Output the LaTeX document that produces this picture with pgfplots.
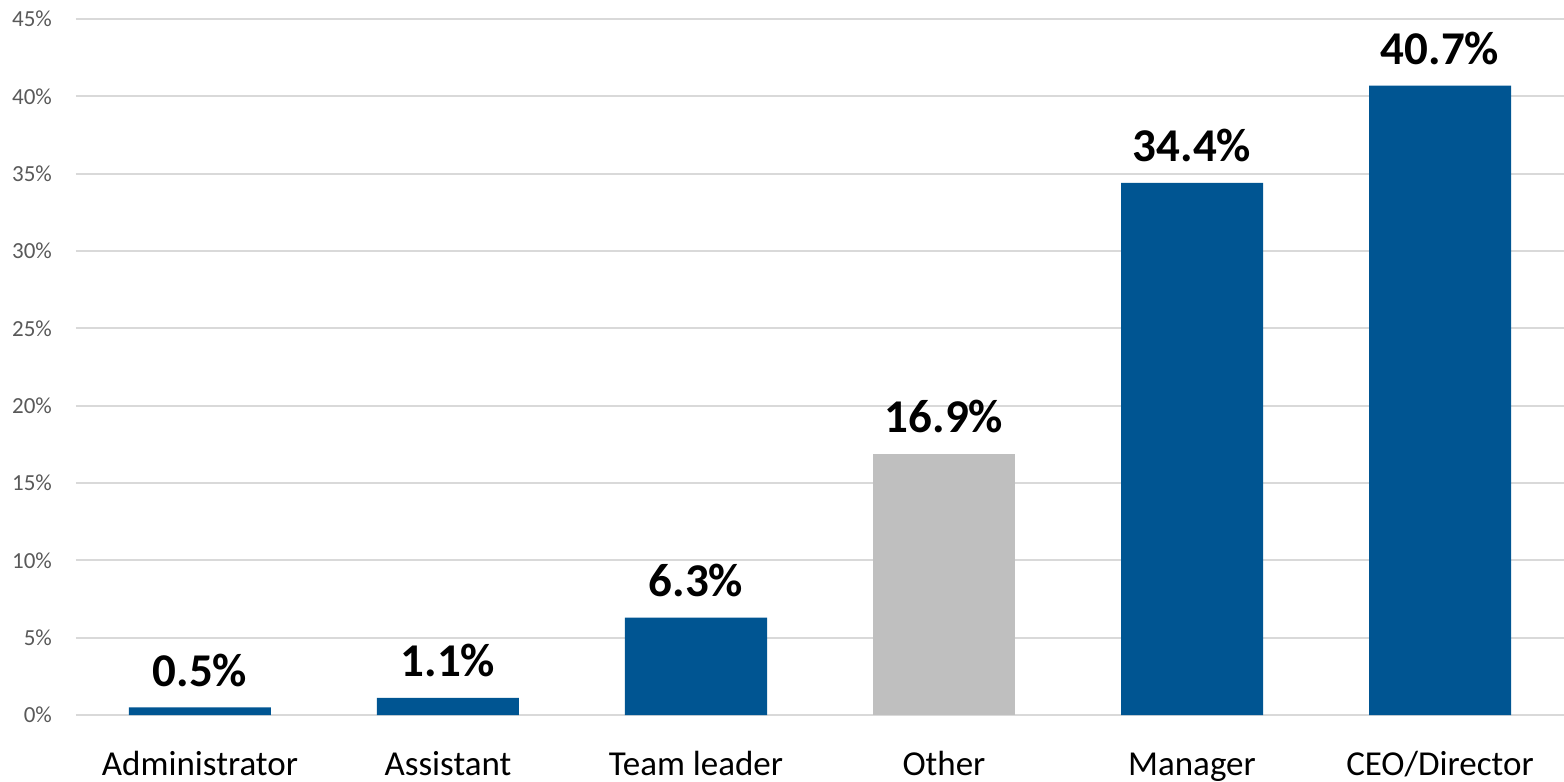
\documentclass[border=0pt]{standalone}
\usepackage{fontspec}
\setmainfont{Carlito}
\usepackage{pgfplots}
\pgfplotsset{compat=1.18}
\definecolor{barblue}{HTML}{005592}
\definecolor{bargrey}{HTML}{BFBFBF}
\definecolor{gridgrey}{HTML}{D9D9D9}
\definecolor{ticktext}{HTML}{595959}
\begin{document}
\begin{tikzpicture}
\path[use as bounding box] (-38pt,-33.5pt) rectangle (744pt,357.5pt);
\begin{axis}[
  at={(0,0)}, anchor=south west,
  scale only axis,
  width=744pt, height=348pt,
  xmin=-0.5, xmax=5.5,
  ymin=0, ymax=45,
  ytick={0,5,...,45},
  yticklabel={\pgfmathprintnumber{\tick}\%},
  /pgf/number format/assume math mode=true,
  yticklabel style={font=\fontsize{11.5}{13}\selectfont, text=ticktext, xshift=-8.5pt},
  xtick={0,1,2,3,4,5},
  xticklabels={Administrator,Assistant,Team leader,Other,Manager,CEO/Director},
  xticklabel style={font=\fontsize{17.5}{19}\selectfont, text=black, text height=12.5pt, text depth=4pt, yshift=-14pt},
  axis line style={draw=none},
  major tick length=0pt,
  ymajorgrids,
  grid style={gridgrey, line width=0.9pt},
  ybar, bar width=71pt, bar shift=0pt,
  nodes near coords={\pgfmathprintnumber[fixed,precision=1,fixed zerofill]{\pgfplotspointmeta}\%},
  nodes near coords style={font=\bfseries\fontsize{23.5}{26}\selectfont, text=black, anchor=base, yshift=10.5pt},
  clip=false,
]
\addplot[fill=barblue, draw=none] coordinates {(0,0.5) (1,1.1) (2,6.3) (4,34.4) (5,40.7)};
\addplot[fill=bargrey, draw=none] coordinates {(3,16.9)};
\end{axis}
\end{tikzpicture}
\end{document}
